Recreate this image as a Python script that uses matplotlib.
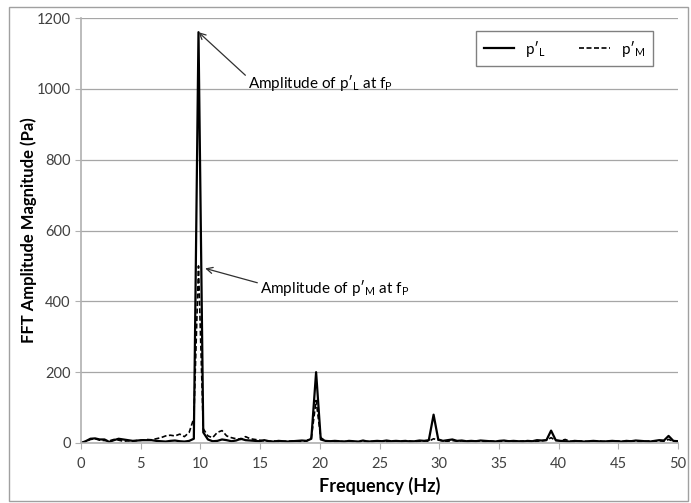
import matplotlib
matplotlib.use("Agg")
import matplotlib.pyplot as plt
from matplotlib.patches import Rectangle

plt.rcParams['font.family'] = ['Lato', 'DejaVu Sans']
plt.rcParams['mathtext.fontset'] = 'custom'
plt.rcParams['mathtext.rm'] = 'Lato'
plt.rcParams['mathtext.it'] = 'Lato:italic'
plt.rcParams['mathtext.bf'] = 'Lato:bold'

freq = [0.00, 0.39, 0.79, 1.18, 1.57, 1.97, 2.36, 2.76, 3.15, 3.54,
        3.94, 4.33, 4.72, 5.12, 5.51, 5.91, 6.30, 6.69, 7.09, 7.48,
        7.87, 8.27, 8.66, 9.06, 9.45, 9.84, 10.24, 10.63, 11.02, 11.42,
        11.81, 12.20, 12.60, 12.99, 13.39, 13.78, 14.17, 14.57, 14.96, 15.35,
        15.75, 16.14, 16.54, 16.93, 17.32, 17.72, 18.11, 18.50, 18.90, 19.29,
        19.69, 20.08, 20.47, 20.87, 21.26, 21.65, 22.05, 22.44, 22.83, 23.23,
        23.62, 24.02, 24.41, 24.80, 25.20, 25.59, 25.98, 26.38, 26.77, 27.17,
        27.56, 27.95, 28.35, 28.74, 29.13, 29.53, 29.92, 30.31, 30.71, 31.10,
        31.50, 31.89, 32.28, 32.68, 33.07, 33.46, 33.86, 34.25, 34.65, 35.04,
        35.43, 35.83, 36.22, 36.61, 37.01, 37.40, 37.80, 38.19, 38.58, 38.98,
        39.37, 39.76, 40.16, 40.55, 40.94, 41.34, 41.73, 42.13, 42.52, 42.91,
        43.31, 43.70, 44.09, 44.49, 44.88, 45.28, 45.67, 46.06, 46.46, 46.85,
        47.24, 47.64, 48.03, 48.43, 48.82, 49.21, 49.61, 50.00]

amp_L = [0, 5, 12, 13, 10, 10, 3, 8, 12, 10,
         8, 6, 7, 8, 8, 8, 6, 5, 4, 6,
         7, 5, 4, 6, 12, 1160, 30, 10, 5, 6,
         10, 8, 5, 7, 12, 8, 7, 6, 5, 8,
         5, 4, 6, 5, 4, 5, 6, 7, 6, 12,
         200, 10, 6, 5, 6, 5, 4, 6, 5, 4,
         7, 4, 5, 6, 5, 7, 5, 6, 5, 6,
         4, 5, 7, 6, 8, 80, 10, 6, 8, 10,
         6, 7, 5, 6, 5, 7, 6, 5, 4, 6,
         7, 5, 6, 5, 4, 6, 5, 8, 7, 8,
         35, 8, 6, 5, 4, 6, 5, 4, 5, 6,
         5, 4, 5, 6, 5, 4, 6, 5, 7, 6,
         5, 4, 6, 8, 7, 20, 6, 5]

amp_M = [0, 4, 10, 12, 8, 7, 6, 10, 8, 5,
         6, 5, 7, 8, 10, 9, 12, 15, 20, 22,
         20, 25, 18, 30, 70, 500, 40, 20, 15, 30,
         35, 20, 15, 12, 10, 18, 12, 10, 8, 6,
         5, 6, 4, 5, 5, 6, 5, 4, 6, 15,
         120, 15, 6, 5, 4, 5, 4, 5, 4, 3,
         4, 5, 4, 6, 5, 4, 5, 6, 4, 5,
         6, 4, 5, 6, 5, 12, 8, 6, 5, 7,
         5, 6, 4, 5, 6, 5, 4, 6, 5, 4,
         5, 6, 4, 5, 6, 5, 4, 5, 6, 8,
         15, 7, 6, 10, 5, 4, 6, 5, 4, 5,
         6, 5, 4, 5, 6, 5, 4, 6, 5, 4,
         5, 6, 5, 6, 5, 10, 5, 4]

x_ticks = [0, 5, 10, 15, 20, 25, 30, 35, 40, 45, 50]
y_ticks = [0, 200, 400, 600, 800, 1000, 1200]

fig = plt.figure(figsize=(6.91, 5.03), dpi=100)
ax = fig.add_axes([81/691, 1-443/503, (678-81)/691, (443-18)/503])

ax.plot(freq, amp_L, color='black', lw=1.6, linestyle='-', label="p\u2032$_\\mathregular{L}$")
ax.plot(freq, amp_M, color='black', lw=1.2, linestyle=(0, (3, 1.5)), label="p\u2032$_\\mathregular{M}$")

ax.set_xlim(0, 50)
ax.set_ylim(0, 1200)
ax.set_xticks(x_ticks)
ax.set_yticks(y_ticks)
ax.grid(axis='y', color='#a6a6a6', lw=0.9)
ax.set_axisbelow(True)
for s in ['top', 'right']:
    ax.spines[s].set_visible(False)
for s in ['left', 'bottom']:
    ax.spines[s].set_color('#b0b0b0')
    ax.spines[s].set_linewidth(1.2)
ax.tick_params(axis='both', colors='#b0b0b0', labelcolor='#404040', labelsize=10.5, length=4)
ax.tick_params(axis='x', pad=6)

ax.set_xlabel('Frequency (Hz)', fontsize=13, fontweight='bold', labelpad=4)
ax.set_ylabel('FFT Amplitude Magnitude (Pa)', fontsize=12, fontweight='bold', labelpad=0)

leg = ax.legend(loc='upper right', ncol=2, bbox_to_anchor=((653-81)/597, 1 - (31-18)/425),
                frameon=True, fancybox=False, edgecolor='#606060', fontsize=11,
                handlelength=2.0, columnspacing=2.2, borderpad=0.5, handletextpad=0.7,
                borderaxespad=0)
leg.get_frame().set_linewidth(1.0)

ax.annotate("Amplitude of p\u2032$_\\mathregular{L}$ at f$_\\mathregular{P}$",
            xy=(9.84, 1160), xytext=(14.0, 1017), fontsize=11, color='black',
            va='center', ha='left',
            arrowprops=dict(arrowstyle='->', color='#303030', lw=0.9, shrinkA=0, shrinkB=0,
                            relpos=(0, 0.75)))
ax.annotate("Amplitude of p\u2032$_\\mathregular{M}$ at f$_\\mathregular{P}$",
            xy=(10.4, 493), xytext=(15.0, 439), fontsize=11, color='black',
            va='center', ha='left',
            arrowprops=dict(arrowstyle='->', color='#303030', lw=0.9, shrinkA=0, shrinkB=0,
                            relpos=(0, 0.7)))

fig.add_artist(Rectangle((9/691, 2/503), (688-9)/691, (496-2)/503, transform=fig.transFigure,
                         fill=False, edgecolor='#a0a0a0', lw=1.0))

fig.savefig('out.png', dpi=100)
